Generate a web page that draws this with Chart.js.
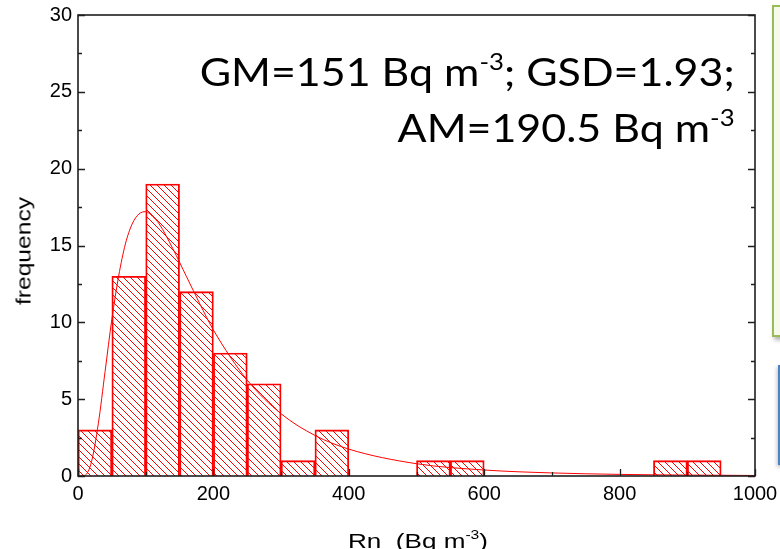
<!DOCTYPE html>
<html>
<head>
<meta charset="utf-8">
<script src="https://cdn.jsdelivr.net/npm/chart.js@4.4.1/dist/chart.umd.min.js"></script>
<style>
  html, body { margin: 0; padding: 0; background: #fff; }
  #wrap { position: relative; width: 780px; height: 549px; overflow: hidden; background: #fff; }
  #c { position: absolute; left: 0; top: 0; }
  #ann { position: absolute; right: 45px; top: 43px; font-family: Lato, "Open Sans", sans-serif; font-size: 39px;
         line-height: 56px; text-align: right; color: #000; white-space: nowrap; transform-origin: right top; }
  #ann div { white-space: nowrap; }
  #ann span.l { display: inline-block; }
  sup { font-size: 0.6em; line-height: 0; position: relative; top: -0.1em; vertical-align: super; }
  #ytitle { position: absolute; left: 22.5px; top: 251px; font-family: "Liberation Sans", Arial, sans-serif; font-size: 21px;
            line-height: 21px; white-space: nowrap; color: #000; }
  #xtitle { position: absolute; left: 418px; top: 530px; font-family: "Liberation Sans", Arial, sans-serif; font-size: 21px;
            line-height: 21px; white-space: nowrap; color: #000; }
  #green { position: absolute; left: 772px; top: 5px; width: 30px; height: 328px; background: #f5faea;
           border: 2px solid #9bbb59; box-shadow: 2px 3px 4px rgba(0,0,0,0.3); }
  #blue { position: absolute; left: 778px; top: 365px; width: 30px; height: 100px; background: #fff;
          border-left: 2px solid #4f81bd; box-shadow: -1px 2px 4px rgba(0,0,0,0.25); }
</style>
</head>
<body>
<div id="wrap">
  <canvas id="c" width="780" height="549"></canvas>
  <div id="green"></div>
  <div id="blue"></div>
  <div id="ann">
    <div><span class="l" id="l1">GM=151 Bq m<sup>-3</sup>; GSD=1.93;</span></div>
    <div><span class="l" id="l2">AM=190.5 Bq m<sup>-3</sup></span></div>
  </div>
  <div id="ytitle">frequency</div>
  <div id="xtitle">Rn&nbsp;&nbsp;(Bq m<sup>-3</sup>)</div>
</div>
<script>
// ---- data ----
const binCenters = [25, 75, 125, 175, 225, 275, 325, 375, 525, 575, 875, 925];   // Rn bins (50 Bq m-3 wide)
const counts     = [3, 13, 19, 12, 8, 6, 1, 3, 1, 1, 1, 1];                          // frequency
const fitX = [0, 10, 20, 30, 40, 50, 60, 70, 80, 90, 100, 110, 120, 140, 160, 180, 200, 250, 300, 350, 400, 500, 600, 700, 800, 900, 1000];
const fitY = [0, 0.04, 0.94, 3.4, 6.8, 10.2, 13.0, 15.1, 16.4, 17.05, 17.2, 16.9, 16.4, 14.8, 13.0, 11.2, 9.5, 6.24, 4.05, 2.64, 1.75, 0.8, 0.39, 0.2, 0.105, 0.059, 0.034];
const xTickValues = [0, 200, 400, 600, 800, 1000];
const yTickValues = [0, 5, 10, 15, 20, 25, 30];

// ---- hatch pattern ----
const pc = document.createElement('canvas');
pc.width = 7; pc.height = 7;
const g = pc.getContext('2d');
g.strokeStyle = '#ff0000';
g.lineWidth = 1;
g.beginPath();
for (const o of [-7, 0, 7]) { g.moveTo(o, 0); g.lineTo(o + 7, 7); }
g.stroke();
const hatch = document.getElementById('c').getContext('2d').createPattern(pc, 'repeat');

const frameTicks = {
  id: 'frameTicks',
  afterDatasetsDraw(chart) {
    const { ctx, chartArea: a, scales: { x, y } } = chart;
    ctx.save();
    ctx.strokeStyle = '#1e1e1e';
    ctx.lineWidth = 1.6;
    ctx.strokeRect(a.left, a.top, a.right - a.left, a.bottom - a.top);
    ctx.lineWidth = 1.3;
    ctx.beginPath();
    const ymin = yTickValues[0], ymax = yTickValues[yTickValues.length - 1];
    const ystep = yTickValues[1] - yTickValues[0];
    for (let v = ymin; v <= ymax; v += ystep / 2) {
      const p = Math.round(y.getPixelForValue(v)) + 0.5;
      const L = (v % ystep === 0) ? 7 : 4;
      ctx.moveTo(a.left, p); ctx.lineTo(a.left + L, p);
      ctx.moveTo(a.right, p); ctx.lineTo(a.right - L, p);
    }
    const xmin = xTickValues[0], xmax = xTickValues[xTickValues.length - 1];
    const xstep = xTickValues[1] - xTickValues[0];
    for (let v = xmin; v <= xmax; v += xstep / 2) {
      const p = Math.round(x.getPixelForValue(v)) + 0.5;
      const L = (v % xstep === 0) ? 7 : 4;
      ctx.moveTo(p, a.bottom); ctx.lineTo(p, a.bottom - L);
    }
    ctx.stroke();
    ctx.restore();
  }
};

new Chart(document.getElementById('c'), {
  data: {
    datasets: [
      {
        type: 'line',
        label: 'fit',
        data: fitX.map((v, i) => ({ x: v, y: fitY[i] })),
        borderColor: '#ff0000',
        borderWidth: 1,
        pointRadius: 0,
        fill: false,
        cubicInterpolationMode: 'monotone',
        order: 0
      },
      {
        type: 'bar',
        label: 'frequency',
        data: binCenters.map((v, i) => ({ x: v, y: counts[i] })),
        backgroundColor: hatch,
        borderColor: '#ff0000',
        borderWidth: 1.2,
        barPercentage: 1,
        categoryPercentage: 1,
        order: 1
      }
    ]
  },
  options: {
    responsive: false,
    animation: false,
    layout: { padding: { top: 15, right: 25, left: 0, bottom: 0 } },
    plugins: { legend: { display: false }, tooltip: { enabled: false } },
    scales: {
      x: {
        type: 'linear', min: 0, max: 1000, offset: false,
        grid: { display: false, drawTicks: false, offset: false },
        border: { display: false },
        afterBuildTicks: s => { s.ticks = xTickValues.map(v => ({ value: v })); },
        afterFit: s => { s.height = 73; s.paddingLeft = 0; s.paddingRight = 0; },
        ticks: { color: '#000', font: { family: 'Liberation Sans', size: 20 }, padding: 6, maxRotation: 0, autoSkip: false,
                 callback: v => String(v) }
      },
      y: {
        type: 'linear', min: 0, max: 30,
        grid: { display: false, drawTicks: false },
        border: { display: false },
        afterBuildTicks: s => { s.ticks = yTickValues.map(v => ({ value: v })); },
        afterFit: s => { s.width = 78; s.paddingTop = 0; s.paddingBottom = 0; },
        ticks: { color: '#000', font: { family: 'Liberation Sans', size: 20 }, padding: 6, callback: v => String(v) }
      }
    }
  },
  plugins: [frameTicks]
});

// ---- fit overlay text extents to the reference ----
(function () {
  const ann = document.getElementById('ann');
  const w1 = document.getElementById('l1').getBoundingClientRect().width;
  ann.style.transform = 'scaleX(' + (535 / w1) + ')';
  const yt = document.getElementById('ytitle');
  const wy = yt.getBoundingClientRect().width;
  yt.style.transform = 'translate(-50%, -50%) rotate(-90deg) scaleX(' + (108 / wy) + ')';
  const xt = document.getElementById('xtitle');
  const wx = xt.getBoundingClientRect().width;
  xt.style.transform = 'translateX(-50%) scaleX(' + (140 / wx) + ')';
})();
</script>
</body>
</html>
